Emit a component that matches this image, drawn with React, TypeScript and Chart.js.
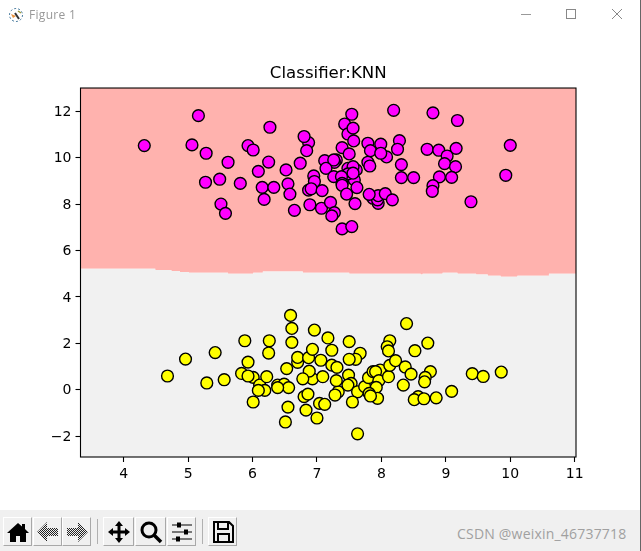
import { useEffect, useRef } from 'react';
import Chart from 'chart.js/auto';

// values
const classAX = [4.32, 5.16, 5.06, 5.28, 5.62, 5.27, 5.49, 5.81, 5.51, 5.58, 5.93, 6.01, 6.27, 6.25, 6.09, 6.15, 6.33, 6.18, 6.52, 6.74, 6.55, 6.58, 6.65, 6.87, 6.80, 6.84, 6.95, 6.96, 6.87, 6.91, 7.08, 6.89, 7.07, 7.21, 7.27, 7.23, 7.12, 7.30, 7.27, 7.26, 7.14, 7.26, 7.54, 7.43, 7.48, 7.56, 7.57, 7.39, 7.50, 7.61, 7.48, 7.58, 7.56, 7.48, 7.56, 7.38, 7.39, 7.39, 7.62, 7.46, 7.39, 7.54, 7.59, 7.87, 7.95, 7.94, 7.95, 8.06, 7.81, 8.17, 7.79, 7.83, 7.99, 8.08, 7.99, 7.79, 7.82, 8.28, 8.25, 8.31, 8.31, 8.50, 8.19, 8.80, 9.18, 8.71, 8.89, 9.02, 9.16, 8.98, 9.15, 8.90, 9.09, 8.80, 8.79, 9.39, 10.0, 9.93];
const classAY = [10.52, 11.81, 10.55, 10.19, 9.8, 8.94, 9.07, 8.89, 8.0, 7.6, 10.52, 10.33, 11.31, 9.81, 9.41, 8.72, 8.72, 8.2, 9.47, 9.76, 8.87, 8.43, 7.73, 10.65, 10.91, 10.3, 9.21, 8.97, 8.6, 8.66, 8.58, 7.97, 7.82, 8.07, 7.63, 7.49, 9.87, 9.9, 9.8, 9.9, 9.54, 9.18, 11.87, 11.45, 11.02, 11.27, 10.72, 10.43, 10.16, 9.47, 9.54, 9.04, 9.61, 9.3, 9.33, 9.18, 8.89, 8.81, 8.71, 8.43, 6.93, 7.03, 8.02, 8.25, 8.03, 8.18, 8.36, 8.45, 8.42, 8.18, 10.62, 10.30, 10.58, 10.03, 10.19, 9.8, 9.64, 10.73, 10.36, 9.7, 9.14, 9.14, 12.04, 11.93, 11.6, 10.36, 10.32, 10.07, 10.4, 9.74, 9.61, 9.17, 9.15, 8.79, 8.55, 8.10, 10.53, 9.24];
const classBX = [4.68, 4.96, 5.29, 5.42, 5.56, 5.88, 5.83, 5.93, 6.01, 5.93, 6.01, 6.11, 6.19, 6.09, 6.22, 6.26, 6.25, 6.39, 6.49, 6.56, 6.39, 6.53, 6.59, 6.61, 6.61, 6.70, 6.70, 6.87, 6.93, 6.96, 7.06, 6.93, 6.88, 6.78, 7.09, 6.80, 6.86, 7.04, 7.12, 6.55, 6.83, 6.51, 7.0, 7.17, 7.23, 7.23, 7.31, 7.33, 7.30, 7.28, 7.50, 7.67, 7.60, 7.50, 7.49, 7.53, 7.48, 7.63, 7.55, 7.63, 7.74, 7.80, 7.87, 7.98, 7.91, 7.96, 7.92, 7.81, 7.94, 7.83, 8.11, 8.13, 8.13, 8.09, 8.22, 8.11, 8.37, 8.46, 8.34, 8.39, 8.52, 8.72, 8.76, 8.68, 8.67, 8.57, 8.51, 8.66, 8.85, 9.09, 9.41, 9.58, 9.86];
const classBY = [0.59, 1.32, 0.29, 1.6, 0.43, 2.11, 0.70, 1.19, 0.53, 0.59, -0.53, 0.2, -0.03, -0.03, 0.56, 2.11, 1.58, 0.2, 0.24, 0.09, 0.09, 0.91, 3.2, 2.64, 2.04, 1.18, 1.39, 1.38, 1.74, 2.57, 1.27, 0.47, 0.8, 0.47, 0.56, -0.3, -0.19, -0.59, -0.63, -0.75, -0.88, -1.39, -1.22, 2.23, 1.7, 1.06, 0.96, -0.09, 0.39, -0.23, 2.07, 1.57, 1.31, 1.31, 0.63, 0.27, 0.2, -0.09, -0.53, -1.9, 0.13, 0.52, 0.78, 0.85, 0.78, 0.39, 0.1, -0.16, -0.37, -0.27, 0.56, 1.05, 2.11, 1.85, 1.25, 1.67, 0.98, 0.67, 0.2, 2.85, 1.68, 2.01, 0.78, 0.53, 0.34, -0.3, -0.43, -0.39, -0.35, -0.07, 0.69, 0.57, 0.76];

// decision boundary between the two regions, as a stepped line
const boundaryX = [3.33, 4.49, 4.74, 4.87, 5.01, 5.62, 6.01, 6.16, 6.78, 7.50, 8.61, 8.64, 8.95, 9.18, 9.47, 9.65, 9.85, 10.11, 10.60, 11.02];
const boundaryY = [5.21, 5.16, 5.11, 5.07, 5.04, 5.0, 5.04, 5.09, 5.04, 5.0, 4.96, 5.0, 5.04, 5.0, 4.96, 4.91, 4.87, 4.91, 5.0, 5.0];

const xTicks = [4, 5, 6, 7, 8, 9, 10, 11];
const yTicks = [-2, 0, 2, 4, 6, 8, 10, 12];

const zip = (xs: number[], ys: number[]) => xs.map((x, i) => ({ x, y: ys[i] }));

const spines = {
  id: 'spines',
  afterDraw(chart: Chart) {
    const { ctx, chartArea: a } = chart;
    ctx.save();
    ctx.strokeStyle = '#000';
    ctx.lineWidth = 1.1;
    ctx.strokeRect(a.left, a.top, a.right - a.left, a.bottom - a.top);
    ctx.restore();
  },
};

const ToolButton = ({ left, width = 29, children }: { left: number; width?: number; children: any }) => (
  <div
    style={{
      position: 'absolute',
      left,
      top: 517,
      width,
      height: 29,
      boxSizing: 'border-box',
      borderRight: '1px solid #a8a8a8',
      borderBottom: '1px solid #a8a8a8',
      borderLeft: '1px solid #fff',
      borderTop: '1px solid #fff',
      display: 'flex',
      alignItems: 'center',
      justifyContent: 'center',
    }}
  >
    <svg width="24" height="24" viewBox="0 0 24 24">
      {children}
    </svg>
  </div>
);

const App = () => {
  const canvasRef = useRef<HTMLCanvasElement>(null);

  useEffect(() => {
    if (!canvasRef.current) return;
    const boundary = zip(boundaryX, boundaryY);
    const chart = new Chart(canvasRef.current, {
      type: 'scatter',
      data: {
        datasets: [
          {
            data: boundary,
            showLine: true,
            stepped: 'before',
            fill: 'end',
            backgroundColor: '#ffb2ae',
            borderWidth: 0,
            pointRadius: 0,
            order: 3,
          },
          {
            data: boundary,
            showLine: true,
            stepped: 'before',
            fill: 'start',
            backgroundColor: '#f1f1f1',
            borderWidth: 0,
            pointRadius: 0,
            order: 2,
          },
          {
            data: zip(classAX, classAY),
            backgroundColor: '#ff00ff',
            borderColor: '#000',
            borderWidth: 1.4,
            pointRadius: 5.9,
            order: 1,
          },
          {
            data: zip(classBX, classBY),
            backgroundColor: '#ffff00',
            borderColor: '#000',
            borderWidth: 1.4,
            pointRadius: 5.9,
            order: 0,
          },
        ],
      },
      options: {
        responsive: false,
        animation: false,
        layout: { padding: { top: 63.5, right: 65, bottom: 0, left: 0 } },
        plugins: {
          legend: { display: false },
          tooltip: { enabled: false },
          title: {
            display: true,
            text: 'Classifier:KNN',
            fullSize: false,
            color: '#000',
            font: { family: 'DejaVu Sans', size: 16.6, weight: 'normal' },
            padding: { top: 0, bottom: 4.6 },
          },
        },
        scales: {
          x: {
            type: 'linear',
            min: 3.33,
            max: 11.02,
            afterBuildTicks: (s: any) => {
              s.ticks = xTicks.map((value) => ({ value }));
            },
            afterFit: (s: any) => {
              s.height = 53;
            },
            grid: { drawOnChartArea: false, tickLength: 5, tickColor: '#000', tickWidth: 1.1 },
            border: { display: false },
            ticks: {
              color: '#000',
              maxRotation: 0,
              autoSkip: false,
              padding: 4,
              font: { family: 'DejaVu Sans', size: 14 },
            },
          },
          y: {
            type: 'linear',
            min: -2.9,
            max: 13,
            afterBuildTicks: (s: any) => {
              s.ticks = yTicks.map((value) => ({ value }));
            },
            afterFit: (s: any) => {
              s.width = 80.5;
            },
            grid: { drawOnChartArea: false, tickLength: 5, tickColor: '#000', tickWidth: 1.1 },
            border: { display: false },
            ticks: {
              color: '#000',
              autoSkip: false,
              padding: 4,
              labelOffset: 1,
              font: { family: 'DejaVu Sans', size: 14 },
              callback: (v: any) => String(v).replace('-', '\u2212'),
            },
          },
        },
      },
      plugins: [spines],
    });
    return () => chart.destroy();
  }, []);

  return (
    <div style={{ position: 'absolute', left: 0, top: 0, width: 641, height: 551, background: '#fff', overflow: 'hidden' }}>
      <canvas ref={canvasRef} width={641} height={510} style={{ position: 'absolute', left: 0, top: 0, display: 'block' }} />

      {/* window title bar */}
      <svg style={{ position: 'absolute', left: 8, top: 7 }} width="16" height="16" viewBox="0 0 16 16">
        <circle cx="8" cy="8" r="6.5" fill="none" stroke="#46799c" strokeWidth="1" strokeDasharray="2 2" />
        <path d="M3 7 L8 9 L5 11Z" fill="#e8913c" />
        <path d="M7 6 L11 12" stroke="#333" strokeWidth="2" />
        <path d="M10 4 L13 6" stroke="#9a9a3c" strokeWidth="1.5" />
      </svg>
      <div style={{ position: 'absolute', left: 29, top: 6, font: '12px "Open Sans", sans-serif', color: '#999', letterSpacing: 0.3 }}>Figure 1</div>
      <div style={{ position: 'absolute', left: 521, top: 14, width: 10, height: 1, background: '#999' }} />
      <div style={{ position: 'absolute', left: 566, top: 9, width: 10, height: 10, boxSizing: 'border-box', border: '1px solid #888' }} />
      <svg style={{ position: 'absolute', left: 611, top: 8 }} width="12" height="12" viewBox="0 0 12 12">
        <path d="M1 1 L11 11 M11 1 L1 11" stroke="#888" strokeWidth="1" />
      </svg>
      <div style={{ position: 'absolute', right: 0, top: 0, width: 1, height: 551, background: '#666' }} />

      {/* navigation toolbar */}
      <div style={{ position: 'absolute', left: 0, top: 510, width: 640, height: 41, background: '#f0f0f0' }} />
      <ToolButton left={3}>
        <path d="M12 3 L16 6.5 L16 4 L19 4 L19 9 L23 13 L20 13 L20 22 L14 22 L14 16 L10 16 L10 22 L4 22 L4 13 L1 13Z" fill="#000" />
      </ToolButton>
      <ToolButton left={33}>
        <defs>
          <pattern id="dither" width="2" height="2" patternUnits="userSpaceOnUse">
            <rect width="1" height="1" fill="#222" />
            <rect x="1" y="1" width="1" height="1" fill="#222" />
          </pattern>
        </defs>
        <path d="M11 2 L1 12 L11 22 L11 16 L22 16 L22 8 L11 8Z" fill="url(#dither)" />
      </ToolButton>
      <ToolButton left={62}>
        <path d="M13 2 L23 12 L13 22 L13 16 L2 16 L2 8 L13 8Z" fill="url(#dither)" />
      </ToolButton>
      <div style={{ position: 'absolute', left: 97, top: 519, width: 1, height: 25, background: '#b0b0b0' }} />
      <ToolButton left={103} width={31}>
        <path d="M12 1 L16 6 L13.5 6 L13.5 10.5 L18 10.5 L18 8 L23 12 L18 16 L18 13.5 L13.5 13.5 L13.5 18 L16 18 L12 23 L8 18 L10.5 18 L10.5 13.5 L6 13.5 L6 16 L1 12 L6 8 L6 10.5 L10.5 10.5 L10.5 6 L8 6Z" fill="#000" />
      </ToolButton>
      <ToolButton left={135} width={31}>
        <circle cx="10" cy="10" r="7" fill="none" stroke="#000" strokeWidth="3" />
        <path d="M15 15 L22 22" stroke="#000" strokeWidth="3.5" />
      </ToolButton>
      <ToolButton left={167}>
        <path d="M2 5 H22 M2 12 H22 M2 19 H22" stroke="#000" strokeWidth="1.2" />
        <rect x="7" y="2.5" width="4" height="5" fill="#000" />
        <rect x="14" y="9.5" width="4" height="5" fill="#000" />
        <rect x="6" y="16.5" width="4" height="5" fill="#000" />
      </ToolButton>
      <div style={{ position: 'absolute', left: 202, top: 519, width: 1, height: 25, background: '#b0b0b0' }} />
      <ToolButton left={208}>
        <path d="M3 2 H18 L22 6 V22 H3Z M7 2 V9 H17 V2 M7 22 V14 H18 V22" fill="none" stroke="#000" strokeWidth="2" />
      </ToolButton>
      <div style={{ position: 'absolute', left: 457, top: 524, font: '14px "Open Sans", sans-serif', color: '#a0a0a0', letterSpacing: 0.2 }}>CSDN @weixin_46737718</div>
    </div>
  );
};

export default App;
